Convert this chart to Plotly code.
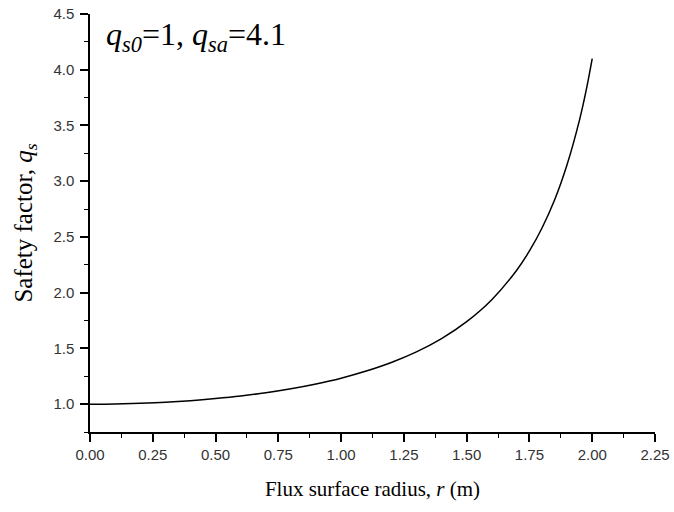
import plotly.graph_objects as go

# safety factor profile
r = [0.0, 0.1, 0.2, 0.3, 0.4, 0.5, 0.6, 0.7, 0.8, 0.9, 1.0, 1.1, 1.2, 1.3, 1.4,
     1.5, 1.6, 1.7, 1.75, 1.8, 1.85, 1.9, 1.95, 1.975, 2.0]
q = [1.0, 1.002, 1.008, 1.017, 1.031, 1.05, 1.073, 1.102, 1.138, 1.181, 1.233,
     1.297, 1.374, 1.469, 1.588, 1.74, 1.937, 2.204, 2.374, 2.58, 2.831, 3.15,
     3.555, 3.805, 4.1]

x_ticks = [0.0, 0.25, 0.5, 0.75, 1.0, 1.25, 1.5, 1.75, 2.0, 2.25]
y_ticks = [1.0, 1.5, 2.0, 2.5, 3.0, 3.5, 4.0, 4.5]

serif = "Liberation Serif, Times New Roman, serif"
sans = "Liberation Sans, Arial, sans-serif"

fig = go.Figure()
fig.add_scatter(x=r, y=q, mode='lines', line=dict(color='black', width=1.5, shape='spline', smoothing=1),
                showlegend=False)

axis_common = dict(showline=True, linecolor='black', linewidth=1.5, ticks='outside', ticklen=8,
                   tickwidth=1.5, tickcolor='black', showgrid=False, zeroline=False, automargin=False,
                   tickfont=dict(family=sans, size=15, color='#333'), mirror=False)

fig.update_xaxes(range=[0, 2.25], tickvals=x_ticks, tickformat='.2f',
                 minor=dict(ticks='outside', ticklen=4, tickwidth=1.2, tickcolor='black', dtick=0.125, tick0=0),
                 title=dict(text='Flux surface radius, <i>r</i> (m)', font=dict(family=serif, size=21, color='black'),
                            standoff=20),
                 **axis_common)
fig.update_yaxes(range=[0.75, 4.5], tickvals=y_ticks, tickformat='.1f', ticklabelstandoff=3,
                 minor=dict(ticks='outside', ticklen=4, tickwidth=1.2, tickcolor='black', dtick=0.25, tick0=0),
                 title=dict(text='Safety factor, <i>q</i><sub><i>s</i></sub>',
                            font=dict(family=serif, size=25, color='black'), standoff=14),
                 **axis_common)

fig.add_annotation(text='<i>q</i><sub><i>s0</i></sub>=1, <i>q</i><sub><i>sa</i></sub>=4.1',
                   xref='paper', yref='paper', x=0.025, y=0.945, xanchor='left', yanchor='middle',
                   showarrow=False, font=dict(family=serif, size=32, color='black'))

fig.update_layout(width=674, height=512, plot_bgcolor='white', paper_bgcolor='white',
                  margin=dict(l=90, r=19, t=14, b=80))
# the page body has a default margin; drop it so the figure sits at the window corner
fig.write_html("out.html", config={'displayModeBar': False},
               post_script="document.body.style.margin='0';")
